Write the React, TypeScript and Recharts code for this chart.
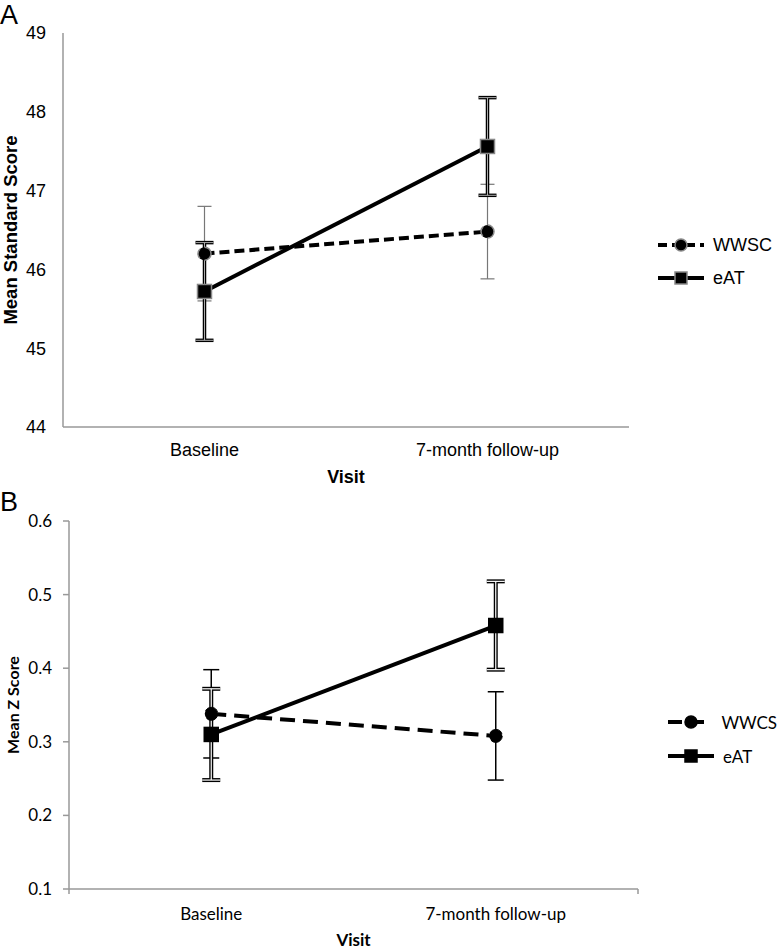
import { LineChart, Line, XAxis, YAxis, ErrorBar, Legend, Label } from "recharts"

const visits = ["Baseline", "7-month follow-up"]

// panel A: mean standard score
const wwscScore = [46.2, 46.48]
const wwscScoreErr = [0.6, 0.6]
const eatScore = [45.72, 47.56]
const eatScoreErr = [0.62, 0.62]
const scoreTicks = [44, 45, 46, 47, 48, 49]

// panel B: mean z score
const wwcsZ = [0.338, 0.308]
const wwcsZErr = [0.06, 0.06]
const eatZ = [0.31, 0.458]
const eatZErr = [0.062, 0.06]
const zTicks = [0.1, 0.2, 0.3, 0.4, 0.5, 0.6]
// category boundaries for the tick marks on panel B's x axis
const visitEdges = [0, 1, 2]

const dataA = visits.map((visit, i) => ({
  visit,
  wwsc: wwscScore[i],
  wwscErr: wwscScoreErr[i],
  eat: eatScore[i],
  eatErr: eatScoreErr[i],
}))

const dataB = visits.map((visit, i) => ({
  visit,
  wwcs: wwcsZ[i],
  wwcsErr: wwcsZErr[i],
  eat: eatZ[i],
  eatErr: eatZErr[i],
}))

const ARIAL = "'Liberation Sans', Arial, sans-serif"
const CALIBRI = "Lato, 'Open Sans', sans-serif"

const squareDot = (size: number, stroke: string) => (props: any) => {
  const { cx, cy, index } = props
  if (cx == null || cy == null) return <g key={index} />
  return (
    <rect key={index} x={cx - size / 2} y={cy - size / 2} width={size} height={size} fill="#000" stroke={stroke} strokeWidth={1.5} />
  )
}

const yTitle = (text: string, x: number, font: string, size: number) => (props: any) => {
  const vb = props.viewBox || {}
  const cy = vb.y + vb.height / 2
  return (
    <text x={x} y={cy} transform={`rotate(-90 ${x} ${cy})`} textAnchor="middle" dominantBaseline="central" fontFamily={font} fontSize={size} fontWeight="bold" fill="#000">
      {text}
    </text>
  )
}

const xTitle = (text: string, baseline: number, font: string, size: number) => (props: any) => {
  const vb = props.viewBox || {}
  return (
    <text x={vb.x + vb.width / 2} y={baseline} textAnchor="middle" fontFamily={font} fontSize={size} fontWeight="bold" fill="#000">
      {text}
    </text>
  )
}

interface KeyItem {
  name: string
  dashed: boolean
  shape: "circle" | "square"
  stroke: string
}

function LegendBox({ items, font, size, rowH, dash }: { items: KeyItem[]; font: string; size: number; rowH: number; dash: string }) {
  return (
    <div>
      {items.map((it) => (
        <div key={it.name} style={{ display: "flex", alignItems: "center", height: rowH }}>
          <svg width={46} height={16} style={{ display: "block" }}>
            <line x1={0} x2={46} y1={8} y2={8} stroke="#000" strokeWidth={4} strokeDasharray={it.dashed ? dash : undefined} />
            {it.shape === "circle" ? (
              <circle cx={23} cy={8} r={6} fill="#000" stroke={it.stroke} strokeWidth={1.5} />
            ) : (
              <rect x={17} y={2} width={12} height={12} fill="#000" stroke={it.stroke} strokeWidth={1.5} />
            )}
          </svg>
          <span style={{ marginLeft: 9, fontFamily: font, fontSize: size, color: "#000", lineHeight: 1 }}>{it.name}</span>
        </div>
      ))}
    </div>
  )
}

const noTickLabel = () => <g />

export default function App() {
  return (
    <div style={{ position: "absolute", left: 0, top: 0, width: 777, height: 949, background: "#fff", overflow: "hidden" }}>
      <div style={{ position: "absolute", left: 0, top: 0, fontFamily: ARIAL, fontSize: 27, lineHeight: "31px" }}>A</div>
      <div style={{ position: "absolute", left: 0, top: 487, fontFamily: ARIAL, fontSize: 27, lineHeight: "31px" }}>B</div>

      <div style={{ position: "absolute", left: 0, top: 0 }}>
        <LineChart width={777} height={495} data={dataA} margin={{ top: 33, right: 148, left: 13, bottom: 0 }}>
          <XAxis
            dataKey="visit"
            height={68}
            padding={{ left: 141.5, right: 141.5 }}
            axisLine={{ stroke: "#999", strokeWidth: 1.5 }}
            tickLine={false}
            tickSize={6}
            tickMargin={10}
            tick={{ fontFamily: ARIAL, fontSize: 18, fill: "#000" }}
          >
            <Label content={xTitle("Visit", 483, ARIAL, 18)} />
          </XAxis>
          <YAxis
            width={50}
            domain={[44, 49]}
            ticks={scoreTicks}
            axisLine={{ stroke: "#999", strokeWidth: 1.5 }}
            tickLine={false}
            tickSize={6}
            tickMargin={11}
            tick={{ fontFamily: ARIAL, fontSize: 18, fill: "#000" }}
          >
            <Label content={yTitle("Mean Standard Score", 10, ARIAL, 18.5)} />
          </YAxis>
          <Legend
            layout="vertical"
            align="center"
            verticalAlign="middle"
            wrapperStyle={{ left: 658, top: 228, width: 119 }}
            content={() => (
              <LegendBox
                font={ARIAL}
                size={18}
                rowH={33}
                dash="9 5"
                items={[
                  { name: "WWSC", dashed: true, shape: "circle", stroke: "#888" },
                  { name: "eAT", dashed: false, shape: "square", stroke: "#888" },
                ]}
              />
            )}
          />
          <Line
            dataKey="wwsc"
            name="WWSC"
            stroke="#000"
            strokeWidth={4}
            strokeDasharray="10 5"
            dot={{ r: 6.5, fill: "#000", stroke: "#888", strokeWidth: 1.5 }}
            activeDot={false}
            isAnimationActive={false}
          >
            <ErrorBar dataKey="wwscErr" direction="y" width={7} stroke="#777" strokeWidth={1.2} />
          </Line>
          <Line
            dataKey="eat"
            name="eAT"
            stroke="#000"
            strokeWidth={4}
            dot={squareDot(14, "#888")}
            activeDot={false}
            isAnimationActive={false}
          >
            <ErrorBar dataKey="eatErr" direction="y" width={9} stroke="#000" strokeWidth={3.5} />
            <ErrorBar dataKey="eatErr" direction="y" width={9} stroke="#aaa" strokeWidth={1} />
          </Line>
        </LineChart>
      </div>

      <div style={{ position: "absolute", left: 0, top: 480 }}>
        <LineChart width={777} height={469} data={dataB} margin={{ top: 41, right: 139, left: 19, bottom: 0 }}>
          <XAxis
            xAxisId="edges"
            type="number"
            domain={[0, 2]}
            ticks={visitEdges}
            allowDataOverflow
            height={1}
            axisLine={{ stroke: "#999", strokeWidth: 1.5 }}
            tick={noTickLabel}
            tickLine={{ stroke: "#999", strokeWidth: 1.5 }}
            tickSize={5}
          />
          <XAxis
            xAxisId="visit"
            dataKey="visit"
            height={59}
            padding={{ left: 142.25, right: 142.25 }}
            axisLine={false}
            tickLine={false}
            tickSize={5}
            tickMargin={13}
            tick={{ fontFamily: CALIBRI, fontSize: 17, fill: "#000" }}
          >
            <Label content={xTitle("Visit", 466, CALIBRI, 17)} />
          </XAxis>
          <YAxis
            width={50}
            domain={[0.1, 0.6]}
            ticks={zTicks}
            axisLine={{ stroke: "#999", strokeWidth: 1.5 }}
            tickLine={{ stroke: "#999", strokeWidth: 1.5 }}
            tickSize={6}
            tickMargin={11}
            tick={{ fontFamily: CALIBRI, fontSize: 17, fill: "#000" }}
            tickFormatter={(v: number) => v.toFixed(1)}
          >
            <Label content={yTitle("Mean Z Score", 12, CALIBRI, 16)} />
          </YAxis>
          <Legend
            layout="vertical"
            align="center"
            verticalAlign="middle"
            wrapperStyle={{ left: 668, top: 225, width: 109 }}
            content={() => (
              <LegendBox
                font={CALIBRI}
                size={17}
                rowH={34}
                dash="14 8"
                items={[
                  { name: "WWCS", dashed: true, shape: "circle", stroke: "#000" },
                  { name: "eAT", dashed: false, shape: "square", stroke: "#000" },
                ]}
              />
            )}
          />
          <Line
            xAxisId="visit"
            dataKey="wwcs"
            name="WWCS"
            stroke="#000"
            strokeWidth={4}
            strokeDasharray="15 8"
            dot={{ r: 6.5, fill: "#000", stroke: "#000", strokeWidth: 1 }}
            activeDot={false}
            isAnimationActive={false}
          >
            <ErrorBar dataKey="wwcsErr" direction="y" width={8} stroke="#000" strokeWidth={1.5} />
          </Line>
          <Line
            xAxisId="visit"
            dataKey="eat"
            name="eAT"
            stroke="#000"
            strokeWidth={4}
            dot={squareDot(14, "#000")}
            activeDot={false}
            isAnimationActive={false}
          >
            <ErrorBar dataKey="eatErr" direction="y" width={9} stroke="#000" strokeWidth={4} />
            <ErrorBar dataKey="eatErr" direction="y" width={9} stroke="#fff" strokeWidth={1.2} />
          </Line>
        </LineChart>
      </div>
    </div>
  )
}
